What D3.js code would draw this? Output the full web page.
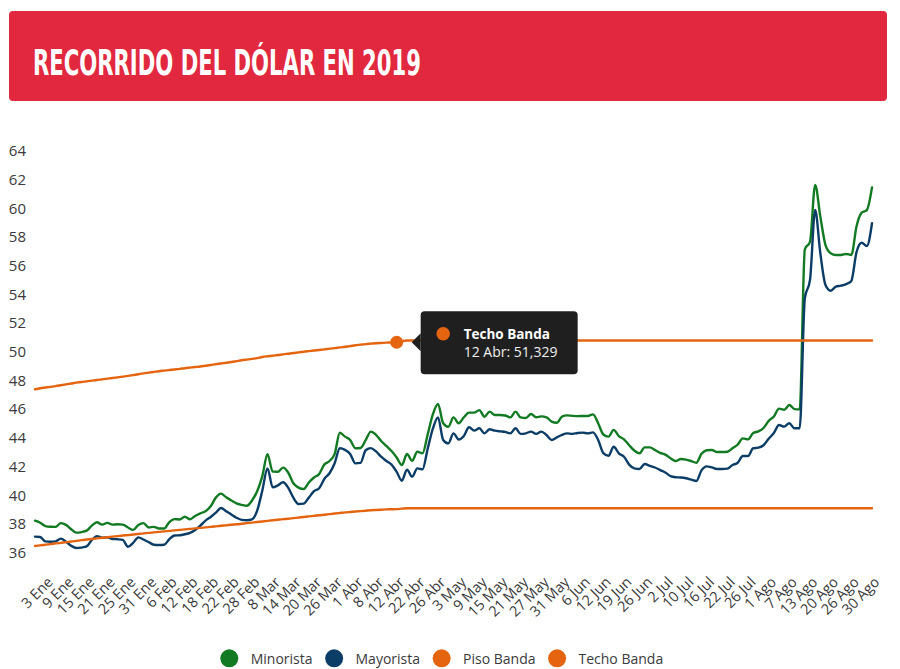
<!DOCTYPE html>
<html><head><meta charset="utf-8">
<script src="https://cdn.jsdelivr.net/npm/d3@7/dist/d3.min.js"></script>
<style>
html,body{margin:0;padding:0;background:#fff;}
svg{display:block;}
</style></head><body>
<svg id="chart" width="900" height="669"></svg>
<script>
const title = "RECORRIDO DEL DÓLAR EN 2019";

const categories = ["28 Dic","2 Ene","3 Ene","4 Ene","7 Ene","8 Ene","9 Ene","10 Ene","11 Ene","14 Ene",
"15 Ene","16 Ene","17 Ene","18 Ene","21 Ene","22 Ene","23 Ene","24 Ene","25 Ene","28 Ene",
"29 Ene","30 Ene","31 Ene","1 Feb","4 Feb","5 Feb","6 Feb","7 Feb","8 Feb","11 Feb",
"12 Feb","13 Feb","14 Feb","15 Feb","18 Feb","19 Feb","20 Feb","21 Feb","22 Feb","25 Feb",
"26 Feb","27 Feb","28 Feb","1 Mar","6 Mar","7 Mar","8 Mar","11 Mar","12 Mar","13 Mar",
"14 Mar","15 Mar","18 Mar","19 Mar","20 Mar","21 Mar","22 Mar","25 Mar","26 Mar","27 Mar",
"28 Mar","29 Mar","1 Abr","3 Abr","4 Abr","5 Abr","8 Abr","9 Abr","10 Abr","11 Abr",
"12 Abr","15 Abr","16 Abr","17 Abr","22 Abr","23 Abr","24 Abr","25 Abr","26 Abr","29 Abr",
"30 Abr","2 May","3 May","6 May","7 May","8 May","9 May","10 May","13 May","14 May",
"15 May","16 May","17 May","20 May","21 May","22 May","23 May","24 May","27 May","28 May",
"29 May","30 May","31 May","3 Jun","4 Jun","5 Jun","6 Jun","7 Jun","10 Jun","11 Jun",
"12 Jun","13 Jun","14 Jun","18 Jun","19 Jun","21 Jun","24 Jun","25 Jun","26 Jun","27 Jun",
"28 Jun","1 Jul","2 Jul","3 Jul","4 Jul","5 Jul","10 Jul","11 Jul","12 Jul","15 Jul",
"16 Jul","17 Jul","18 Jul","19 Jul","22 Jul","23 Jul","24 Jul","25 Jul","26 Jul","29 Jul",
"30 Jul","31 Jul","1 Ago","2 Ago","5 Ago","6 Ago","7 Ago","8 Ago","9 Ago","12 Ago",
"13 Ago","14 Ago","15 Ago","16 Ago","20 Ago","21 Ago","22 Ago","23 Ago","26 Ago","27 Ago",
"28 Ago","29 Ago","30 Ago"];

const xTickLabels = ["3 Ene","9 Ene","15 Ene","21 Ene","25 Ene","31 Ene","6 Feb","12 Feb","18 Feb","22 Feb",
"28 Feb","8 Mar","14 Mar","20 Mar","26 Mar","1 Abr","8 Abr","12 Abr","22 Abr","26 Abr",
"3 May","9 May","15 May","21 May","27 May","31 May","6 Jun","12 Jun","19 Jun","26 Jun",
"2 Jul","10 Jul","16 Jul","22 Jul","26 Jul","1 Ago","7 Ago","13 Ago","20 Ago","26 Ago","30 Ago"];

const yTicks = [36,38,40,42,44,46,48,50,52,54,56,58,60,62,64];

const minorista = [38.89,38.75,38.52,38.47,38.46,38.72,38.60,38.30,38.06,38.10,
38.20,38.55,38.78,38.62,38.74,38.62,38.64,38.62,38.42,38.25,
38.60,38.72,38.42,38.46,38.35,38.35,38.80,39.00,38.98,39.17,
38.99,39.22,39.40,39.55,39.90,40.50,40.78,40.52,40.30,40.10,
40.00,39.93,40.30,40.95,42.00,43.52,42.31,42.30,42.59,42.25,
41.50,41.20,41.10,41.55,41.90,42.15,42.80,43.05,43.55,45.02,
44.75,44.52,43.94,43.96,44.50,45.10,44.88,44.45,44.10,43.75,
43.30,42.77,43.54,43.07,43.70,43.59,44.90,46.30,47.02,45.68,
45.44,46.09,45.68,46.10,46.42,46.42,46.60,46.14,46.49,46.26,
46.26,46.22,46.09,46.49,46.09,46.05,46.33,46.10,46.16,46.10,
45.80,45.72,46.15,46.23,46.20,46.18,46.19,46.19,46.30,45.68,
44.90,44.75,45.22,44.79,44.56,44.15,43.78,43.59,44.00,44.00,
43.82,43.62,43.50,43.25,43.05,43.19,43.15,43.05,42.93,43.55,
43.80,43.82,43.68,43.68,43.70,43.94,44.20,44.63,44.56,45.00,
45.12,45.35,45.85,46.15,46.70,46.62,46.95,46.67,46.65,57.80,
58.33,62.29,60.08,58.10,57.53,57.41,57.41,57.48,57.41,59.40,
60.36,60.54,62.12];

const mayorista = [37.78,37.76,37.45,37.42,37.45,37.64,37.43,37.15,36.99,37.02,
37.10,37.55,37.82,37.70,37.74,37.62,37.60,37.55,37.08,37.35,
37.73,37.58,37.40,37.22,37.20,37.22,37.60,37.86,37.88,37.95,
38.05,38.25,38.55,38.90,39.15,39.45,39.78,39.55,39.32,39.10,
38.95,38.92,38.98,39.60,41.00,42.54,41.22,41.35,41.57,41.20,
40.50,40.06,40.08,40.50,40.95,41.15,41.80,42.20,42.90,43.94,
43.83,43.54,42.89,42.92,43.80,43.95,43.72,43.35,43.05,42.80,
42.30,41.68,42.45,41.96,42.54,42.47,43.90,45.30,46.09,44.52,
44.28,44.98,44.55,44.80,45.40,45.17,45.33,44.98,45.26,45.17,
45.12,45.08,44.98,45.33,44.94,44.98,45.10,44.94,45.10,44.86,
44.52,44.70,44.88,44.98,44.94,45.00,45.03,44.98,45.05,44.52,
43.60,43.42,44.05,43.59,43.35,42.80,42.54,42.50,42.84,42.72,
42.60,42.42,42.25,42.00,41.92,41.90,41.85,41.75,41.66,42.40,
42.68,42.61,42.50,42.50,42.52,42.77,42.93,43.40,43.40,43.94,
43.98,44.15,44.60,45.00,45.56,45.45,45.68,45.33,45.33,54.40,
55.67,60.54,57.53,55.32,54.92,55.20,55.27,55.38,55.60,57.60,
58.26,58.03,59.62];

const pisoBanda = [37.13,37.17,37.22,37.26,37.31,37.35,37.40,37.44,37.49,37.54,
37.58,37.62,37.66,37.70,37.74,37.78,37.82,37.86,37.89,37.93,
37.97,38.01,38.04,38.08,38.11,38.15,38.18,38.22,38.25,38.29,
38.32,38.36,38.39,38.43,38.46,38.50,38.54,38.57,38.61,38.64,
38.68,38.72,38.76,38.80,38.84,38.88,38.92,38.96,39.00,39.03,
39.07,39.11,39.15,39.19,39.23,39.27,39.31,39.35,39.39,39.43,
39.47,39.50,39.53,39.56,39.59,39.62,39.64,39.66,39.68,39.69,
39.70,39.73,39.755,39.755,39.755,39.755,39.755,39.755,39.755,39.755,
39.755,39.755,39.755,39.755,39.755,39.755,39.755,39.755,39.755,39.755,
39.755,39.755,39.755,39.755,39.755,39.755,39.755,39.755,39.755,39.755,
39.755,39.755,39.755,39.755,39.755,39.755,39.755,39.755,39.755,39.755,
39.755,39.755,39.755,39.755,39.755,39.755,39.755,39.755,39.755,39.755,
39.755,39.755,39.755,39.755,39.755,39.755,39.755,39.755,39.755,39.755,
39.755,39.755,39.755,39.755,39.755,39.755,39.755,39.755,39.755,39.755,
39.755,39.755,39.755,39.755,39.755,39.755,39.755,39.755,39.755,39.755,
39.755,39.755,39.755,39.755,39.755,39.755,39.755,39.755,39.755,39.755,
39.755,39.755,39.755];

const techoBanda = [48.05,48.12,48.17,48.22,48.27,48.33,48.39,48.45,48.51,48.56,
48.60,48.65,48.70,48.74,48.79,48.84,48.88,48.93,48.98,49.04,
49.10,49.16,49.21,49.26,49.31,49.35,49.39,49.43,49.47,49.52,
49.56,49.60,49.64,49.69,49.74,49.80,49.85,49.90,49.95,50.01,
50.07,50.12,50.17,50.22,50.30,50.35,50.39,50.44,50.48,50.53,
50.58,50.62,50.67,50.71,50.75,50.79,50.83,50.88,50.92,50.97,
51.01,51.06,51.12,51.16,51.20,51.23,51.26,51.28,51.30,51.31,
51.329,51.40,51.448,51.448,51.448,51.448,51.448,51.448,51.448,51.448,
51.448,51.448,51.448,51.448,51.448,51.448,51.448,51.448,51.448,51.448,
51.448,51.448,51.448,51.448,51.448,51.448,51.448,51.448,51.448,51.448,
51.448,51.448,51.448,51.448,51.448,51.448,51.448,51.448,51.448,51.448,
51.448,51.448,51.448,51.448,51.448,51.448,51.448,51.448,51.448,51.448,
51.448,51.448,51.448,51.448,51.448,51.448,51.448,51.448,51.448,51.448,
51.448,51.448,51.448,51.448,51.448,51.448,51.448,51.448,51.448,51.448,
51.448,51.448,51.448,51.448,51.448,51.448,51.448,51.448,51.448,51.448,
51.448,51.448,51.448,51.448,51.448,51.448,51.448,51.448,51.448,51.448,
51.448,51.448,51.448];

const seriesNames = ["Minorista","Mayorista","Piso Banda","Techo Banda"];
const seriesColors = ["#127a22","#0c3d66","#e4640f","#e4640f"];
const seriesValues = [minorista, mayorista, pisoBanda, techoBanda];

const tooltipSeries = 3;
const tooltipCategory = "12 Abr";

const svg = d3.select("#chart");
const fontUI = "'Open Sans','Noto Sans',sans-serif";

// Title banner
svg.append("rect").attr("x",9).attr("y",11).attr("width",878).attr("height",90)
  .attr("rx",4).attr("fill","#e1283e");
svg.append("text").attr("x",33).attr("y",75).text(title)
  .attr("fill","#fff").attr("font-family","'Liberation Sans Narrow','DejaVu Sans Condensed','Roboto Condensed',sans-serif")
  .attr("font-weight","bold").attr("font-size",36)
  .attr("textLength",388).attr("lengthAdjust","spacingAndGlyphs");

// Scales
const x = d3.scalePoint().domain(categories).range([35, 872]);
const y = d3.scaleLinear().domain([36, 64]).range([562.2, 160.4]);

// Y axis
const gy = svg.append("g").attr("transform","translate(26,0)")
  .call(d3.axisLeft(y).tickValues(yTicks).tickSize(0).tickPadding(0).tickFormat(d3.format("d")));
gy.select(".domain").remove();
gy.selectAll("text").attr("font-family",fontUI).attr("font-size",15).attr("fill","#3a3a3a")
  .attr("dy","-0.32em");

// X axis
const gx = svg.append("g").attr("transform","translate(0,572)")
  .call(d3.axisBottom(x).tickValues(xTickLabels).tickSize(0).tickPadding(0));
gx.select(".domain").remove();
gx.selectAll("text")
  .attr("font-family",fontUI).attr("font-size",14.5).attr("fill","#3a3a3a")
  .attr("text-anchor","end").attr("dy",0).attr("y",0)
  .attr("transform","translate(8,11) rotate(-45)");

// Lines
const line = d3.line().x((d,i)=>x(categories[i])).y(d=>y(d)).curve(d3.curveMonotoneX);
seriesValues.forEach((vals,k)=>{
  svg.append("path").datum(vals).attr("d",line)
    .attr("fill","none").attr("stroke",seriesColors[k])
    .attr("stroke-width",2.4).attr("stroke-linejoin","round").attr("stroke-linecap","round");
});

// Hover marker + tooltip
const ti = categories.indexOf(tooltipCategory);
const tv = seriesValues[tooltipSeries][ti];
const px = x(tooltipCategory), py = y(tv);
svg.append("circle").attr("cx",px).attr("cy",py).attr("r",6.5)
  .attr("fill",seriesColors[tooltipSeries]);
const tg = svg.append("g").attr("transform",`translate(${px+24},${py-31})`);
tg.append("rect").attr("x",0).attr("y",0).attr("width",157).attr("height",63).attr("rx",4)
  .attr("fill","#1f1f1f");
tg.append("path").attr("d","M0,22 L-9,31 L0,40 Z").attr("fill","#1f1f1f");
tg.append("circle").attr("cx",22.5).attr("cy",22.5).attr("r",6.8).attr("fill",seriesColors[tooltipSeries]);
tg.append("text").attr("x",43).attr("y",27.5).text(seriesNames[tooltipSeries])
  .attr("fill","#fff").attr("font-family",fontUI).attr("font-weight","bold").attr("font-size",13.5);
tg.append("text").attr("x",43).attr("y",46).text(tooltipCategory + ": " + d3.format(".3f")(tv).replace(".",","))
  .attr("fill","#f0f0f0").attr("font-family",fontUI).attr("font-size",14);

// Legend
let lx = 229.3;
const ly = 658.3;
seriesNames.forEach((name,k)=>{
  svg.append("circle").attr("cx",lx).attr("cy",ly).attr("r",9).attr("fill",seriesColors[k]);
  const t = svg.append("text").attr("x",lx+21.4).attr("y",ly+5.5).text(name)
    .attr("font-family",fontUI).attr("font-size",14).attr("fill","#3a3a3a");
  lx = lx + 21.4 + t.node().getComputedTextLength() + 21.6;
});
</script>
</body></html>
